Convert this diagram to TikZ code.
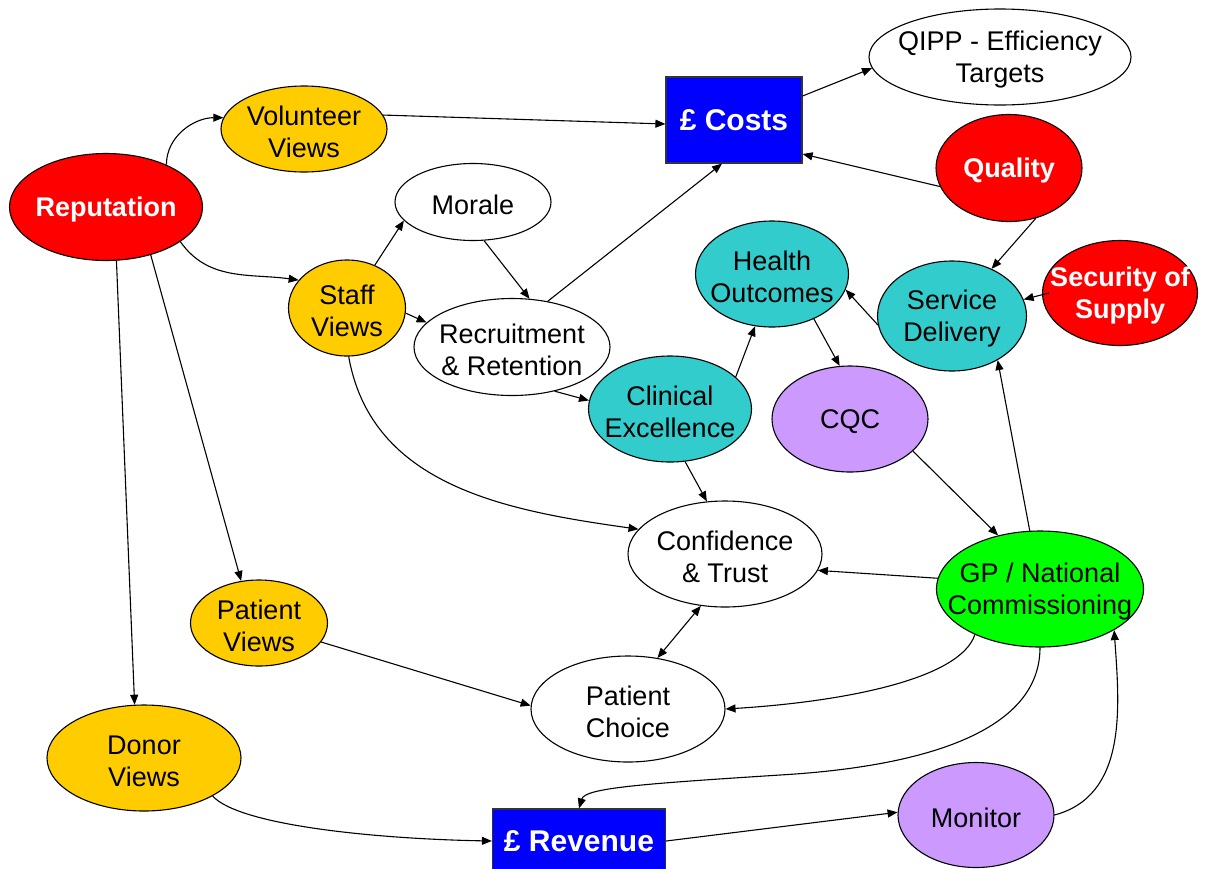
\documentclass[tikz,border=0pt]{standalone}
\usepackage{fontspec}
\setmainfont{Liberation Sans}
\usetikzlibrary{shapes.geometric,arrows.meta}
\definecolor{rred}{HTML}{FF0000}
\definecolor{ryel}{HTML}{FFCC00}
\definecolor{rteal}{HTML}{33CCCC}
\definecolor{rblue}{HTML}{0000FF}
\definecolor{rpurp}{HTML}{CC99FF}
\definecolor{rgreen}{HTML}{00FF00}
\tikzset{
  oval/.style={ellipse, draw=black, line width=1.1pt, inner sep=0pt},
  box/.style={rectangle, draw=black!80, line width=1.2pt, inner sep=0pt, fill=rblue, text=white,
     font=\fontsize{30}{34}\selectfont\bfseries},
  lbl/.style={align=center, inner sep=0pt, yshift=-3pt, font=\fontsize{27}{32}\selectfont},
  wlbl/.style={lbl, font=\fontsize{27}{32}\selectfont\bfseries, text=white},
  arr/.style={-{Triangle[length=10pt,width=8pt]}, line width=1.1pt},
  darr/.style={{Triangle[length=10pt,width=8pt]}-{Triangle[length=10pt,width=8pt]}, line width=1.1pt},
}
\begin{document}
\begin{tikzpicture}[x=1pt,y=-1pt]
\useasboundingbox (0,0) rectangle (1207,868);
% nodes
\node[oval, fill=rred, minimum width=193pt, minimum height=107pt, label={[wlbl]center:Reputation}] (rep) at (106,207) {};
\node[oval, fill=ryel, minimum width=166pt, minimum height=86pt, label={[lbl]center:{Volunteer\\Views}}] (vol) at (304,129) {};
\node[box, minimum width=136pt, minimum height=86pt] (costs) at (734,120) {£ Costs};
\node[oval, fill=white, minimum width=262pt, minimum height=96pt, label={[lbl]center:{QIPP - Efficiency\\Targets}}] (qipp) at (1000,57) {};
\node[oval, fill=rred, minimum width=146pt, minimum height=107pt, label={[wlbl]center:Quality}] (qual) at (1009,168) {};
\node[oval, fill=white, minimum width=156pt, minimum height=77pt, label={[lbl]center:Morale}] (mor) at (473,202) {};
\node[oval, fill=ryel, minimum width=117pt, minimum height=96pt, label={[lbl]center:{Staff\\Views}}] (staff) at (347,308) {};
\node[oval, fill=white, minimum width=196pt, minimum height=97pt, label={[lbl]center:{Recruitment\\\& Retention}}] (rec) at (512,347) {};
\node[oval, fill=rteal, minimum width=153pt, minimum height=106pt, label={[lbl]center:{Health\\Outcomes}}] (health) at (772,274) {};
\node[oval, fill=rteal, minimum width=149pt, minimum height=110pt, label={[lbl]center:{Service\\Delivery}}] (sd) at (952,316) {};
\node[oval, fill=rred, minimum width=155pt, minimum height=105pt, label={[wlbl]center:{Security of\\Supply}}] (sec) at (1120,293) {};
\node[oval, fill=rteal, minimum width=163pt, minimum height=106pt, label={[lbl]center:{Clinical\\Excellence}}] (clin) at (670,409) {};
\node[oval, fill=rpurp, minimum width=156pt, minimum height=106pt, label={[lbl]center:CQC}] (cqc) at (850,419) {};
\node[oval, fill=white, minimum width=194pt, minimum height=106pt, label={[lbl]center:{Confidence\\\& Trust}}] (conf) at (725,554) {};
\node[oval, fill=rgreen, minimum width=207pt, minimum height=116pt, label={[lbl]center:{GP / National\\Commissioning}}] (gp) at (1040,589) {};
\node[oval, fill=ryel, minimum width=137pt, minimum height=86pt, label={[lbl]center:{Patient\\Views}}] (pv) at (259,623) {};
\node[oval, fill=white, minimum width=194pt, minimum height=106pt, label={[lbl]center:{Patient\\Choice}}] (pc) at (628,709) {};
\node[oval, fill=ryel, minimum width=194pt, minimum height=106pt, label={[lbl]center:{Donor\\Views}}] (donor) at (144,758) {};
\node[box, minimum width=173pt, minimum height=64pt] (rev) at (579,841) {£ Revenue};
\node[oval, fill=rpurp, minimum width=156pt, minimum height=105pt, label={[lbl]center:Monitor}] (mon) at (976,815) {};
% edges
\draw[arr] (rep.35) to[out=90,in=180] (vol.172);
\draw[arr] (rep.-25) to[out=-55,in=172] (staff.150);
\draw[arr] (rep.-47) -- (pv.113);
\draw[arr] (rep.-79) -- (donor.100);
\draw[arr] (vol.10) -- ([yshift=-4pt]costs.west);
\draw[arr] (staff.57) -- (mor.195);
\draw[arr] (staff.-5) -- (rec.164);
\draw[arr] (staff.-88) to[out=-80,in=172] (conf.164);
\draw[arr] (mor.-74) -- (rec.70);
\draw[arr] (rec.52) -- ([xshift=-12pt]costs.south);
\draw[arr] (rec.-46) -- (clin.174);
\draw[arr] (clin.26) -- (health.-108);
\draw[arr] (health.-47) -- (cqc.101);
\draw[arr] (sd.187) -- (health.-12);
\draw[arr] (qual.195) -- ([yshift=-34pt]costs.east);
\draw[arr] (qual.-62) -- (sd.50);
\draw[arr] ([xshift=7pt]sec.west) -- (sd.13);
\draw[arr] ([yshift=24pt]costs.east) -- (qipp.185);
\draw[arr] (clin.-74) -- (conf.109);
\draw[arr] (cqc.-27) -- (gp.128);
\draw[arr] (gp.100) -- (sd.-44);
\draw[arr] (gp.174) -- (conf.-10);
\draw[darr] (conf.-115) -- (pc.60);
\draw[arr] (pv.-17) -- (pc.178);
\draw[arr] (gp.-145) .. controls (960,680) and (840,702) .. (pc.0);
\draw[arr] (gp.south) .. controls (1040,740) and (900,768) .. (780,775) .. controls (640,784) and (585,788) .. (rev.north);
\draw[arr] (donor.-29) .. controls (240,826) and (380,839) .. (rev.west);
\draw[arr] (rev.east) -- (mon.178);
\draw[arr] (mon.east) to[out=15,in=-86] (gp.-29);
\end{tikzpicture}
\end{document}
